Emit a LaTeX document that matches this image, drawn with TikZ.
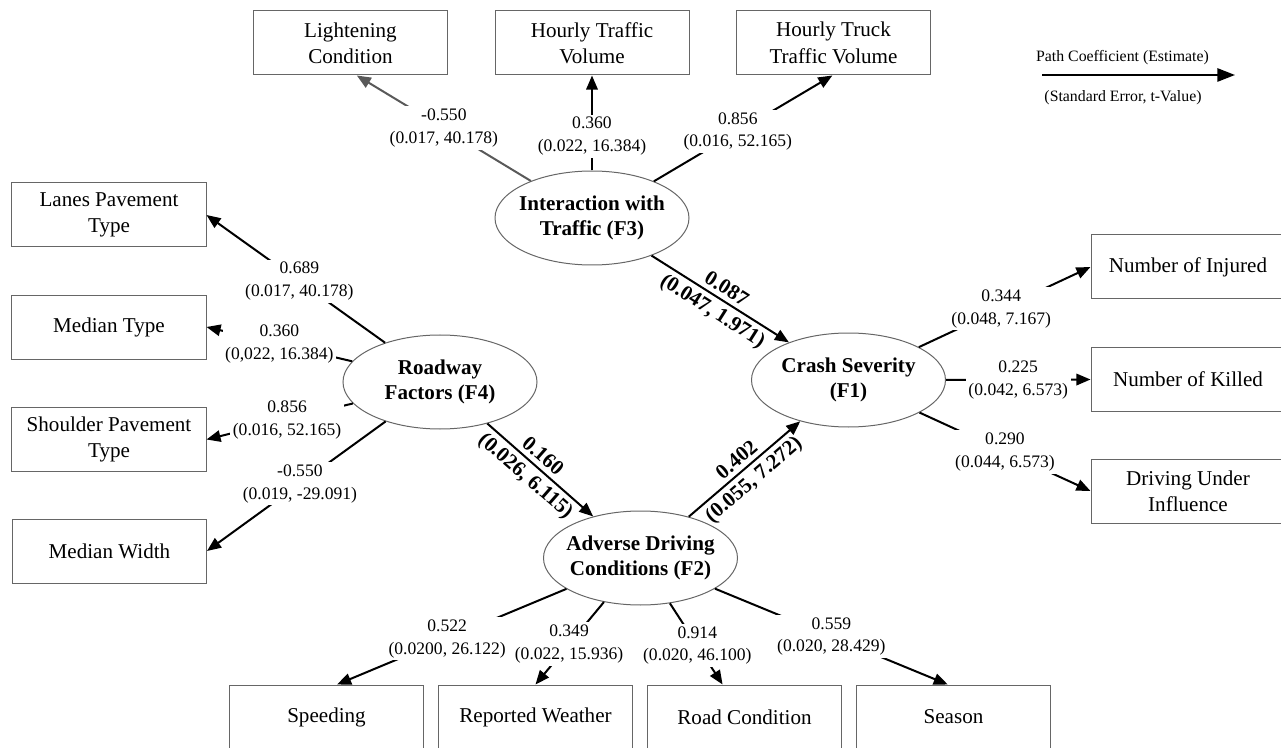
\documentclass[tikz,border=0pt]{standalone}
\usepackage{fontspec}
\setmainfont{Liberation Serif}
\usepackage{tikz}
\usetikzlibrary{arrows.meta}
\usetikzlibrary{shapes.geometric}

\begin{document}
\begin{tikzpicture}[line width=0.2mm,
  box/.style={draw=black!60, minimum width=3.88cm, minimum height=1.28cm, align=center, inner sep=0pt, font=\fontsize{12}{15}\selectfont},
  latent/.style={ellipse, draw=black!60, minimum width=3.88cm, minimum height=1.88cm, align=center, inner xsep=-3.5pt, inner ysep=0pt, font=\fontsize{12}{14}\selectfont\bfseries},
  arr/.style={-{Triangle[length=8pt,width=6.5pt]}, line width=0.4mm},
  lbl/.style={fill=white, align=center, inner sep=1.5pt, font=\fontsize{10}{13}\selectfont},
  coef/.style={sloped, inner sep=2.5pt, font=\fontsize{12}{14}\selectfont\bfseries}]

\useasboundingbox (0,0) rectangle (25.62,14.94);

% latent factors
\node[latent] (F3) at (11.84,10.58) {Interaction with\\Traffic (F3)};
\node[latent] (F4) at (8.80,7.30) {Roadway\\Factors (F4)};
\node[latent] (F2) at (12.81,3.78) {Adverse Driving\\Conditions (F2)};
\node[latent] (F1) at (16.97,7.34) {Crash Severity\\(F1)};

% indicators
\node[box] (light) at (7.01,14.08) {Lightening\\Condition};
\node[box] (hourly) at (11.84,14.08) {Hourly Traffic\\Volume};
\node[box] (truck) at (16.67,14.08) {Hourly Truck\\Traffic Volume};

\node[box] (lanes) at (2.18,10.64) {Lanes Pavement\\Type};
\node[box] (mtype) at (2.18,8.40) {Median Type};
\node[box] (shoulder) at (2.18,6.15) {Shoulder Pavement\\Type};
\node[box] (mwidth) at (2.19,3.92) {Median Width};

\node[box] (injured) at (23.76,9.60) {Number of Injured};
\node[box] (killed) at (23.76,7.35) {Number of Killed};
\node[box] (dui) at (23.76,5.12) {Driving Under\\Influence};

\node[box] (speed) at (6.53,0.60) {Speeding};
\node[box] (weather) at (10.71,0.60) {Reported Weather};
\node[box] (roadc) at (14.89,0.60) {Road Condition};
\node[box] (season) at (19.07,0.60) {Season};

% F3
\draw[arr, draw=black!65] (F3) -- (light.281) node[lbl, pos=0.5] {-0.550\\(0.017, 40.178)};
\draw[arr] (F3) -- (hourly) node[lbl, pos=0.36] {0.360\\(0.022, 16.384)};
\draw[arr] (F3) -- (truck.268) node[lbl, pos=0.47] {0.856\\(0.016, 52.165)};

% F4
\draw[arr] (F4) -- (lanes.east) node[lbl, pos=0.48] {0.689\\(0.017, 40.178)};
\draw[arr] (F4) -- (mtype.east) node[lbl, pos=0.5] {0.360\\(0,022, 16.384)};
\draw[arr] (F4) -- (shoulder.east) node[lbl, pos=0.45] {0.856\\(0.016, 52.165)};
\draw[arr] (F4) -- (mwidth.east) node[lbl, pos=0.48] {-0.550\\(0.019, -29.091)};

% F1
\draw[arr] (F1) -- (injured.west) node[lbl, pos=0.48] {0.344\\(0.048, 7.167)};
\draw[arr] (F1) -- (killed.west) node[lbl, pos=0.5] {0.225\\(0.042, 6.573)};
\draw[arr] (F1) -- (dui.west) node[lbl, pos=0.5] {0.290\\(0.044, 6.573)};

% F2
\draw[arr] (F2) -- (speed.72) node[lbl, pos=0.52] {0.522\\(0.0200, 26.122)};
\draw[arr] (F2) -- (weather.north) node[lbl, pos=0.51] {0.349\\(0.022, 15.936)};
\draw[arr] (F2) -- (roadc.124) node[lbl, pos=0.52] {0.914\\(0.020, 46.100)};
\draw[arr] (F2) -- (season.100) node[lbl, pos=0.5] {0.559\\(0.020, 28.429)};

% structural paths
\draw[arr] (F3) -- (F1) node[coef, pos=0.5, above] {0.087} node[coef, pos=0.5, below] {(0.047, 1.971)};
\draw[arr] (F4) -- (F2) node[coef, pos=0.45, above] {0.160} node[coef, pos=0.45, below] {(0.026, 6.115)};
\draw[arr] (F2) -- (F1) node[coef, pos=0.5, above] {0.402} node[coef, pos=0.5, below] {(0.055, 7.272)};

% legend
\node[font=\fontsize{9}{11}\selectfont] (lgtop) at (22.45,13.78) {Path Coefficient (Estimate)};
\coordinate (lgA) at (20.84,13.44);
\coordinate (lgB) at (24.70,13.44);
\draw[-{Triangle[length=10pt,width=7.5pt]}, line width=0.4mm] (lgA) -- (lgB);
\node[font=\fontsize{9}{11}\selectfont] (lgbot) at (22.46,12.98) {(Standard Error, t-Value)};
\end{tikzpicture}
\end{document}
